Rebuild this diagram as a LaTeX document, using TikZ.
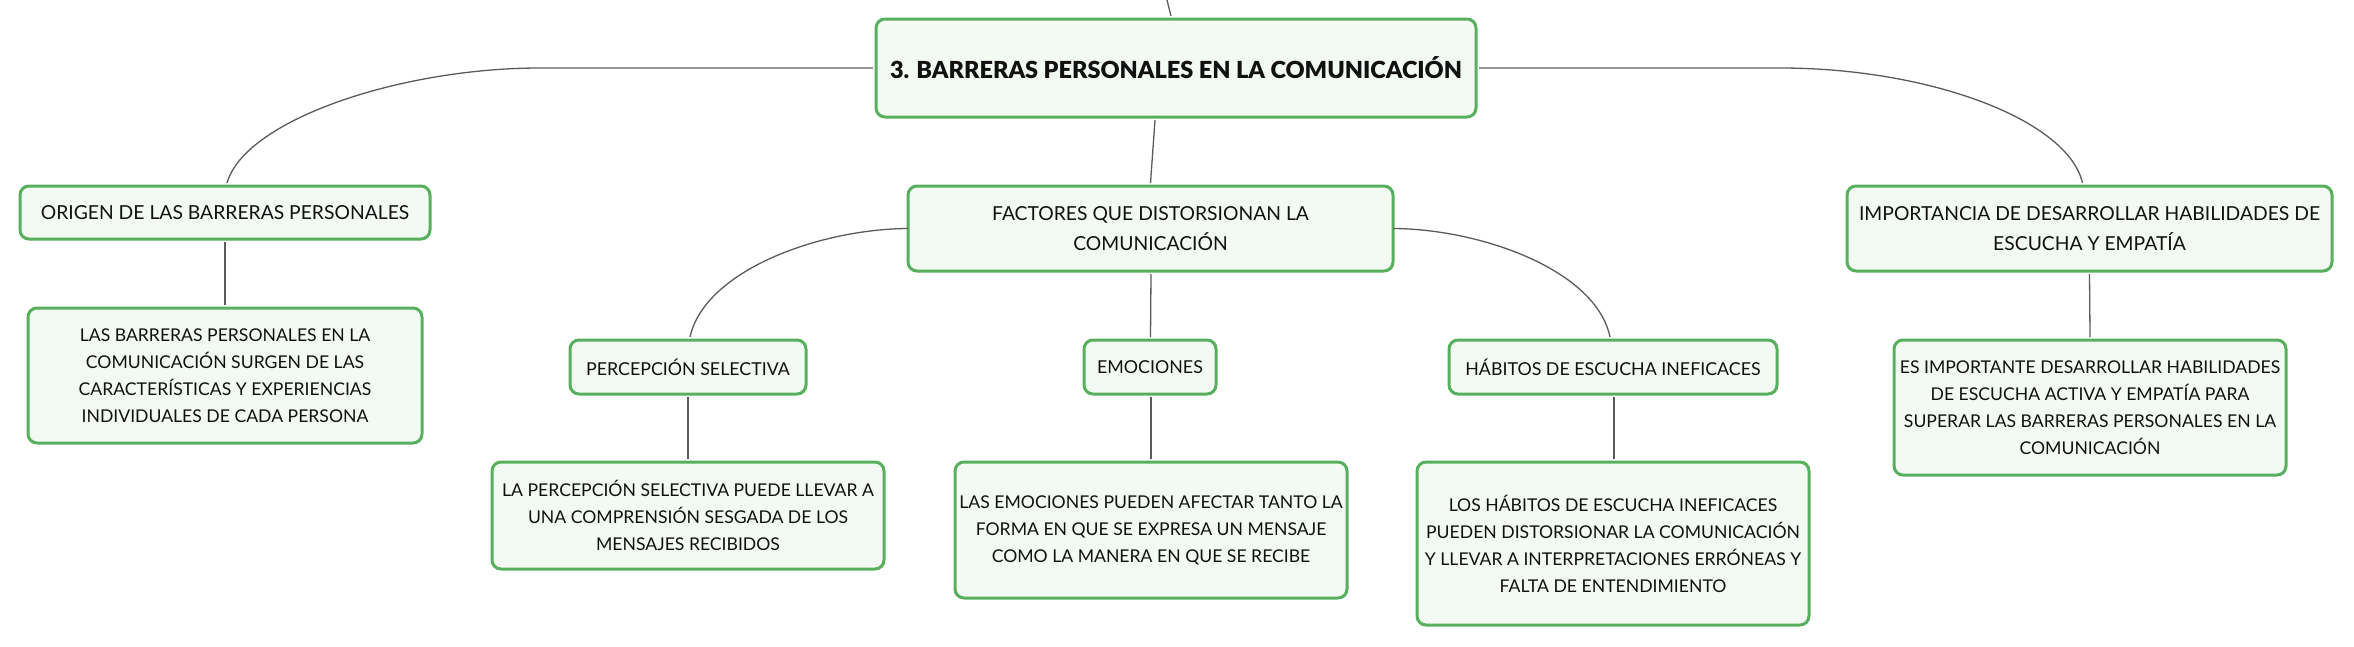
\documentclass[tikz,border=0pt]{standalone}
\usepackage{fontspec}
\setmainfont{Lato}
\newfontfamily\rootfont{Lato Black}
\definecolor{boxgreen}{HTML}{58B05E}
\definecolor{boxfill}{HTML}{F3FAF4}
\definecolor{linegray}{HTML}{5A5A5A}
\definecolor{txt}{HTML}{111111}
\begin{document}
\begin{tikzpicture}[x=1pt,y=-1pt,
  box/.style={draw=boxgreen, line width=3pt, fill=boxfill, rounded corners=9pt,
    inner sep=0pt, align=center, text=txt},
  topicfont/.style={font=\fontsize{19.3}{30}\selectfont},
  subfont/.style={font=\fontsize{17.8}{30}\selectfont},
  childfont/.style={font=\fontsize{17.6}{27}\selectfont},
  conn/.style={draw=linegray, line width=1.3pt}]
\useasboundingbox (0,0) rectangle (2354,646);
% nodes
\node[box, minimum width=600pt, minimum height=98pt, font=\fontsize{23.5}{30}\selectfont\rootfont] (root) at (1176,68) {3. BARRERAS PERSONALES EN LA COMUNICACIÓN};
\node[box, topicfont, minimum width=410pt, minimum height=53pt] (orig) at (225,212.5) {ORIGEN DE LAS BARRERAS PERSONALES};
\node[box, childfont, minimum width=394pt, minimum height=135pt] (origc) at (225,375.5) {LAS BARRERAS PERSONALES EN LA\\COMUNICACIÓN SURGEN DE LAS\\CARACTERÍSTICAS Y EXPERIENCIAS\\INDIVIDUALES DE CADA PERSONA};
\node[box, topicfont, minimum width=485pt, minimum height=85pt] (fact) at (1150.5,228.5) {FACTORES QUE DISTORSIONAN LA\\COMUNICACIÓN};
\node[box, topicfont, minimum width=485pt, minimum height=85pt] (imp) at (2089.5,228.5) {IMPORTANCIA DE DESARROLLAR HABILIDADES DE\\ESCUCHA Y EMPATÍA};
\node[box, childfont, minimum width=392pt, minimum height=135pt] (impc) at (2090,407.5) {ES IMPORTANTE DESARROLLAR HABILIDADES\\DE ESCUCHA ACTIVA Y EMPATÍA PARA\\SUPERAR LAS BARRERAS PERSONALES EN LA\\COMUNICACIÓN};
\node[box, subfont, minimum width=236pt, minimum height=54pt] (perc) at (688,367) {PERCEPCIÓN SELECTIVA};
\node[box, childfont, minimum width=392pt, minimum height=107pt] (percc) at (688,515.5) {LA PERCEPCIÓN SELECTIVA PUEDE LLEVAR A\\UNA COMPRENSIÓN SESGADA DE LOS\\MENSAJES RECIBIDOS};
\node[box, subfont, minimum width=132pt, minimum height=54pt] (emo) at (1150,367) {EMOCIONES};
\node[box, childfont, minimum width=392pt, minimum height=136pt] (emoc) at (1151,530) {LAS EMOCIONES PUEDEN AFECTAR TANTO LA\\FORMA EN QUE SE EXPRESA UN MENSAJE\\COMO LA MANERA EN QUE SE RECIBE};
\node[box, subfont, minimum width=328pt, minimum height=54pt] (hab) at (1613,367) {HÁBITOS DE ESCUCHA INEFICACES};
\node[box, childfont, minimum width=392pt, minimum height=163pt] (habc) at (1613,543.5) {LOS HÁBITOS DE ESCUCHA INEFICACES\\PUEDEN DISTORSIONAR LA COMUNICACIÓN\\Y LLEVAR A INTERPRETACIONES ERRÓNEAS Y\\FALTA DE ENTENDIMIENTO};
% connectors
\coordinate (top) at (1167,0);
\draw[conn] (top) -- ([xshift=-5pt,yshift=1.5pt]root.north);
\draw[conn] ([xshift=-21pt,yshift=-1.5pt]root.south) -- ([yshift=1.5pt]fact.north);
\draw[conn] ([xshift=-1.5pt]root.west) -- (540,68) .. controls (400,68) and (245,120) .. ([xshift=2pt,yshift=1.5pt]orig.north);
\draw[conn] ([xshift=1.5pt]root.east) -- (1780,68) .. controls (1930,68) and (2068,120) .. ([xshift=-7pt,yshift=1.5pt]imp.north);
\draw[conn] ([xshift=1.5pt]fact.west) .. controls (820,229) and (705,270) .. ([xshift=2pt,yshift=1.5pt]perc.north);
\draw[conn] ([xshift=-1.5pt]fact.east) .. controls (1481,229) and (1596,270) .. ([xshift=-3pt,yshift=1.5pt]hab.north);
\draw[conn] ([yshift=-1.5pt]orig.south) -- ([yshift=1.5pt]origc.north);
\draw[conn] ([xshift=1pt,yshift=-1.5pt]emo.south) -- ([yshift=1.5pt]emoc.north);
\draw[conn] ([xshift=0.5pt,yshift=-1.5pt]fact.south) -- ([xshift=0.5pt,yshift=1.5pt]emo.north);
\draw[conn] ([yshift=-1.5pt]perc.south) -- ([yshift=1.5pt]percc.north);
\draw[conn] ([xshift=1pt,yshift=-1.5pt]hab.south) -- ([xshift=1pt,yshift=1.5pt]habc.north);
\draw[conn] ([yshift=-1.5pt]imp.south) -- ([yshift=1.5pt]impc.north);
\end{tikzpicture}
\end{document}
